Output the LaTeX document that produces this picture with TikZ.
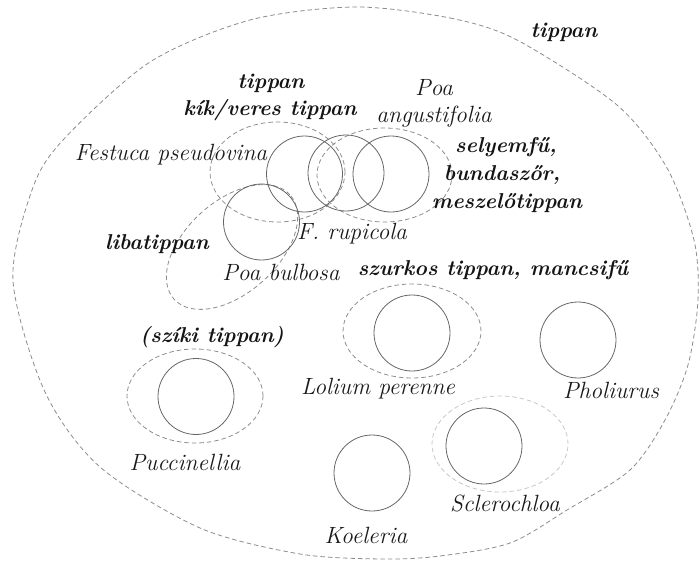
\documentclass[tikz,border=0pt]{standalone}
\usepackage{fontspec}
\usetikzlibrary{shapes.geometric}
\definecolor{circgray}{gray}{0.40}
\definecolor{dashgray}{gray}{0.55}
\definecolor{lightdash}{gray}{0.78}
\tikzset{
  circ/.style={circle, draw=circgray, line width=0.8pt, minimum size=76pt, inner sep=0pt},
  dashedline/.style={draw=dashgray, line width=0.8pt, dash pattern=on 4.5pt off 3pt},
  grp/.style={ellipse, dashedline, inner sep=0pt},
  lbl/.style={font=\fontsize{23.5}{28}\selectfont\itshape\addfontfeature{FakeBold=0.3}, inner sep=0pt, align=center, text=black!90},
  blbl/.style={font=\fontsize{21.5}{28}\selectfont\bfseries\itshape, inner sep=0pt, align=center, text=black!92},
}
\begin{document}
\begin{tikzpicture}[x=1pt,y=-1pt]
\useasboundingbox (0,0) rectangle (700,562);
% outer group (hand-drawn egg shape)
\draw[dashedline] plot[smooth cycle] coordinates {
 (355,7) (450,18) (517,40) (617,105) (667,168) (694,240) (698,300) (688,365)
 (665,420) (630,470) (567,510) (510,543) (440,556) (383,559) (300,554)
 (200,528) (100,467) (45,392) (13,281) (32,190) (63,140) (150,62) (250,20)};
% upper cluster
\node[grp, minimum width=135pt, minimum height=100pt] (festg) at (277.5,172) {};
\node[grp, minimum width=135pt, minimum height=94pt] (poag) at (384.5,175) {};
\node[grp, minimum width=156pt, minimum height=92pt, rotate=42] (bulbg) at (232,247) {};
\node[circ] (fest) at (304.5,174) {};
\node[circ] (rup) at (346,173) {};
\node[circ] (poa) at (391,174) {};
\node[circ] (bulb) at (261.5,222) {};
% lower groups
\node[grp, minimum width=138pt, minimum height=94pt] (lolg) at (412,331) {};
\node[circ] (lol) at (412,333) {};
\node[circ] (phol) at (578,340) {};
\node[grp, minimum width=136pt, minimum height=94pt] (pucg) at (195,396) {};
\node[circ] (puc) at (196,396.5) {};
\node[circ] (koel) at (372,473) {};
\node[grp, draw=lightdash, minimum width=136pt, minimum height=96pt] (sclg) at (500,444) {};
\node[circ] (scl) at (484,446) {};
% labels
\node[blbl] (t1) at (564,32) {tippan};
\node[blbl] (t2) at (271,83) {tippan};
\node[blbl] (t2b) at (270,110) {kík/veres tippan};
\node[lbl] (t3) at (434,88) {Poa};
\node[lbl] (t3b) at (434,117) {angustifolia};
\node[lbl] (t4) at (171,155) {Festuca pseudovina};
\node[blbl] (t5) at (506,147) {selyemfű,};
\node[blbl] (t5b) at (502,175) {bundaszőr,};
\node[blbl] (t5c) at (507,203) {meszelőtippan};
\node[blbl] (t6) at (157,244) {libatippan};
\node[lbl] (t7) at (352,234) {F. rupicola};
\node[lbl] (t8) at (281,272) {Poa bulbosa};
\node[blbl] (t9) at (493,270) {szurkos tippan, mancsifű};
\node[blbl] (t10) at (212,337) {(szíki tippan)};
\node[lbl] (t11) at (378,389) {Lolium perenne};
\node[lbl] (t12) at (611,390) {Pholiurus};
\node[lbl] (t13) at (185,462) {Puccinellia};
\node[lbl] (t14) at (505,503) {Sclerochloa};
\node[lbl] (t15) at (366,535) {Koeleria};
\end{tikzpicture}
\end{document}
